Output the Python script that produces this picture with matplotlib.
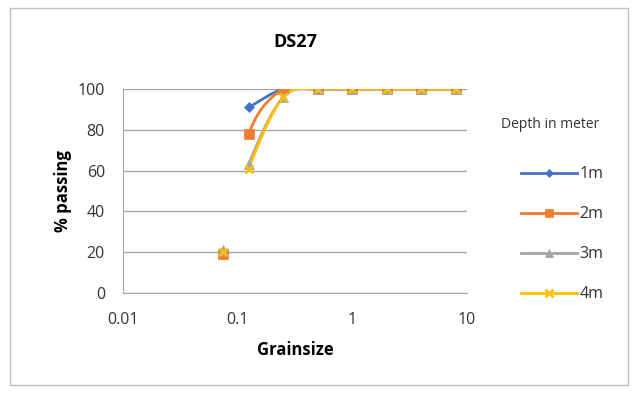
import matplotlib.pyplot as plt
from matplotlib.lines import Line2D
from matplotlib.patches import Rectangle
import numpy as np

plt.rcParams['font.family'] = ['Open Sans', 'DejaVu Sans']

grainsize = [0.075, 0.125, 0.25, 0.5, 1, 2, 4, 8]
depths = ['1m', '2m', '3m', '4m']
passing_1m = [np.nan, 91, 100, 100, 100, 100, 100, 100]
passing_2m = [19, 78, 100, 100, 100, 100, 100, 100]
passing_3m = [21, 63, 96, 100, 100, 100, 100, 100]
passing_4m = [20, 61, 96, 100, 100, 100, 100, 100]

colors = ['#4472C4', '#ED7D31', '#A5A5A5', '#FFC000']
markers = ['D', 's', '^', 'x']
msizes = [5, 6.5, 6.5, 6]


def smooth_segments(xs, ys, n=40):
    # Catmull-Rom style bezier through the points, done in log-x space;
    # returns one curve per gap between neighbouring points
    px = np.log10(np.asarray(xs, float))
    py = np.asarray(ys, float)
    ok = ~np.isnan(py)
    pts = np.column_stack([px[ok], py[ok]])
    out = []
    for i in range(len(pts) - 1):
        p0 = pts[i - 1] if i > 0 else pts[i]
        p1 = pts[i]
        p2 = pts[i + 1]
        p3 = pts[i + 2] if i + 2 < len(pts) else pts[i + 1]
        c1 = p1 + (p2 - p0) / 6
        c2 = p2 - (p3 - p1) / 6
        t = np.linspace(0, 1, n)[:, None]
        seg = ((1 - t) ** 3 * p1 + 3 * (1 - t) ** 2 * t * c1
               + 3 * (1 - t) * t ** 2 * c2 + t ** 3 * p2)
        out.append((px[ok][i], seg))
    return out


fig = plt.figure(figsize=(6.33, 3.93), dpi=100)
fig.patches.append(Rectangle((10 / 633, 8 / 393), 618 / 633, 377 / 393,
                             transform=fig.transFigure, fill=False,
                             edgecolor='#BFBFBF', linewidth=1))
ax = fig.add_axes([123 / 633, 100 / 393, 344 / 633, 204 / 393])

series = [passing_1m, passing_2m, passing_3m, passing_4m]
first = np.log10(grainsize[0])
for vals, c, m, ms in zip(series, colors, markers, msizes):
    # no line between the finest sieve and the next one
    segs = [s for x0, s in smooth_segments(grainsize, vals) if x0 != first]
    curve = np.vstack(segs)
    ax.plot(10 ** curve[:, 0], curve[:, 1], color=c, linewidth=2, zorder=3)
    ax.plot(grainsize, vals, linestyle='none', marker=m, color=c,
            markersize=ms, markeredgewidth=1.8 if m == 'x' else 0.5, zorder=4)

ax.set_xscale('log')
ax.set_xlim(0.01, 10)
ax.set_ylim(0, 100)
ax.set_yticks(range(0, 101, 20))
ax.set_xticks([0.01, 0.1, 1, 10])
ax.set_xticklabels(['0.01', '0.1', '1', '10'])
ax.minorticks_off()
ax.grid(axis='y', color='#A6A6A6', linewidth=1)
ax.set_axisbelow(True)
for side in ['top', 'right']:
    ax.spines[side].set_visible(False)
for side in ['left', 'bottom']:
    ax.spines[side].set_color('#A6A6A6')
ax.tick_params(length=0, labelsize=11.5, colors='#333333')
ax.tick_params(axis='y', pad=13)
ax.tick_params(axis='x', pad=14)

ax.set_title('DS27', fontsize=13, fontweight='bold', pad=30)
ax.set_ylabel('% passing', fontsize=12, fontweight='bold', labelpad=4)
ax.set_xlabel('Grainsize', fontsize=12, fontweight='bold', labelpad=9)

handles = [Line2D([], [], color=c, marker=m, markersize=ms - 0.5, linewidth=2,
                  markeredgewidth=1.8 if m == 'x' else 0.5)
           for c, m, ms in zip(colors, markers, msizes)]
fig.text(501 / 633, 1 - 125 / 393, 'Depth in meter', fontsize=10,
         va='center', ha='left', color='#333333')
leg = fig.legend(handles, depths, loc='upper left',
                 bbox_to_anchor=(507 / 633, 1 - 152 / 393), frameon=False,
                 fontsize=11.5, labelspacing=1.5, handlelength=3.5,
                 handletextpad=0.15, labelcolor='#333333')

fig.savefig('out.png', dpi=100)
